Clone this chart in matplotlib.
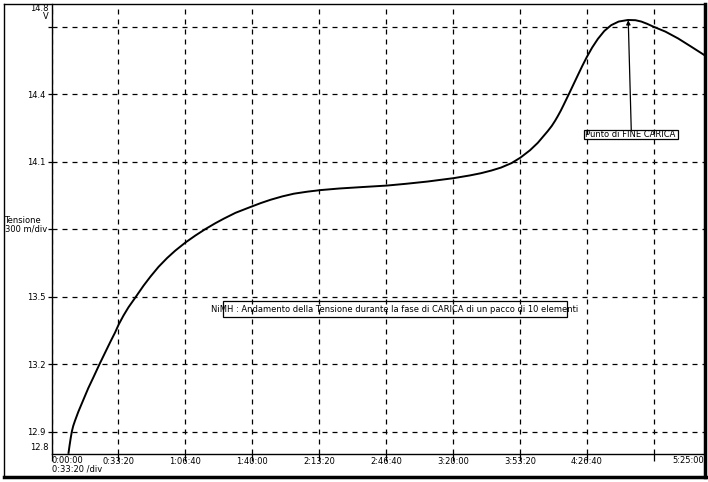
import matplotlib
matplotlib.use('Agg')
import matplotlib.pyplot as plt
from matplotlib.patches import Rectangle
from matplotlib.lines import Line2D

plt.rcParams['font.family'] = 'DejaVu Sans'
plt.rcParams['font.size'] = 6

# tempo in secondi, tensione in volt
tempo = [509, 540, 575, 608, 650, 700, 800, 958, 1100, 1250, 1437, 1600, 1757,
         1900, 2006, 2150, 2300, 2527, 2750, 2955, 3200, 3455, 3700, 4003, 4300,
         4602, 4900, 5150, 5500, 5949, 6250, 6548, 6900, 7246, 7650, 8045,
         8600, 9243, 10021, 10600, 11240, 12018, 12500, 12835, 13150, 13434,
         13750, 14012, 14300, 14533, 14830, 14950, 15050, 15132, 15220, 15300,
         15479, 15600, 15731, 15860, 16000, 16160, 16329, 16520, 16727, 16950,
         17227, 17450, 17626, 17800, 17976, 18350, 18725, 19100, 19500]
tensione = [12.805, 12.838, 12.872, 12.900, 12.925, 12.947, 12.987, 13.043,
            13.093, 13.140, 13.200, 13.250, 13.298, 13.340, 13.375, 13.415,
            13.452, 13.500, 13.548, 13.588, 13.632, 13.671, 13.704, 13.740,
            13.771, 13.800, 13.826, 13.846, 13.872, 13.898, 13.915, 13.930,
            13.945, 13.957, 13.966, 13.973, 13.980, 13.986, 13.993, 14.001,
            14.011, 14.026, 14.038, 14.048, 14.060, 14.073, 14.093, 14.117,
            14.150, 14.183, 14.235, 14.258, 14.281, 14.302, 14.326, 14.350,
            14.405, 14.443, 14.484, 14.524, 14.565, 14.607, 14.645, 14.680,
            14.706, 14.722, 14.729, 14.728, 14.722, 14.712, 14.700, 14.677,
            14.647, 14.612, 14.574]

x_ticks = [0, 2000, 4000, 6000, 8000, 10000, 12000, 14000, 16000, 18000]
x_labels = ['', '0:33:20', '1:06:40', '1:40:00', '2:13:20', '2:46:40',
            '3:20:00', '3:53:20', '4:26:40', '']
y_ticks = [12.9, 13.2, 13.5, 13.8, 14.1, 14.4, 14.7]
y_labels = ['12.9', '13.2', '13.5', '', '14.1', '14.4', '']

titolo = 'NiMH : Andamento della Tensione durante la fase di CARICA di un pacco di 10 elementi'
nota = 'Punto di FINE CARICA'

W, H = 708, 482
fig = plt.figure(figsize=(W / 100, H / 100), dpi=100)
fig.patch.set_facecolor('white')

# cornice esterna
fig.add_artist(Line2D([4 / W, 4 / W], [1 - 4 / H, 1 - 477 / H], color='black', lw=1))
fig.add_artist(Line2D([4 / W, 705 / W], [1 - 4 / H, 1 - 4 / H], color='black', lw=1))
fig.add_artist(Line2D([705 / W, 705 / W], [1 - 4 / H, 1 - 477 / H], color='black', lw=2.5))
fig.add_artist(Line2D([4 / W, 706 / W], [1 - 477 / H, 1 - 477 / H], color='black', lw=2.5))

ax = fig.add_axes([51.5 / W, 1 - 454 / H, (704 - 51.5) / W, (454 - 4) / H])
ax.set_xlim(0, 19500)
ax.set_ylim(12.8, 14.8)

ax.plot(tempo, tensione, color='black', lw=1.4)

ax.set_xticks(x_ticks)
ax.set_xticklabels(x_labels)
ax.set_yticks(y_ticks)
ax.set_yticklabels(y_labels)
ax.grid(True, color='black', lw=0.9, linestyle=(0, (4, 4)))
ax.tick_params(axis='x', length=5, width=0.9, pad=-3, labelsize=6)
ax.tick_params(axis='y', length=3, width=0.9, pad=1, labelsize=6)
for s in ['top', 'right']:
    ax.spines[s].set_visible(False)
for s in ['left', 'bottom']:
    ax.spines[s].set_linewidth(1)

# etichette extra
ax.text(0, -0.005, '0:00:00\n0:33:20 /div', transform=ax.transAxes, ha='left', va='top',
        linespacing=0.9)
ax.text(1.0, -0.005, '5:25:00', transform=ax.transAxes, ha='right', va='top')
ax.text(-0.005, 12.827, '12.8', transform=ax.get_yaxis_transform(), ha='right', va='center')
ax.text(-0.005, 1.0, '14.8\nV', transform=ax.transAxes, ha='right', va='top',
        multialignment='right', linespacing=0.9)
ax.text(-0.072, 13.78, 'Tensione\n300 m/div', transform=ax.get_yaxis_transform(),
        ha='left', va='bottom', linespacing=0.9)

# titolo con riquadro
ax.text(4781, 13.443, titolo, ha='left', va='center')
ax.add_patch(Rectangle((5111, 13.411), 15410 - 5111, 13.478 - 13.411,
                       fill=False, ec='black', lw=0.9))

# nota fine carica
ax.text(15930, 14.22, nota, ha='left', va='center')
ax.add_patch(Rectangle((15910, 14.199), 18725 - 15910, 14.240 - 14.199,
                       fill=False, ec='black', lw=0.9))
ax.annotate('', xy=(17236, 14.728), xytext=(17326, 14.240),
            arrowprops=dict(arrowstyle='-|>', color='black', lw=0.9,
                            mutation_scale=6, shrinkA=0, shrinkB=0))

fig.savefig('out.png', dpi=100)
